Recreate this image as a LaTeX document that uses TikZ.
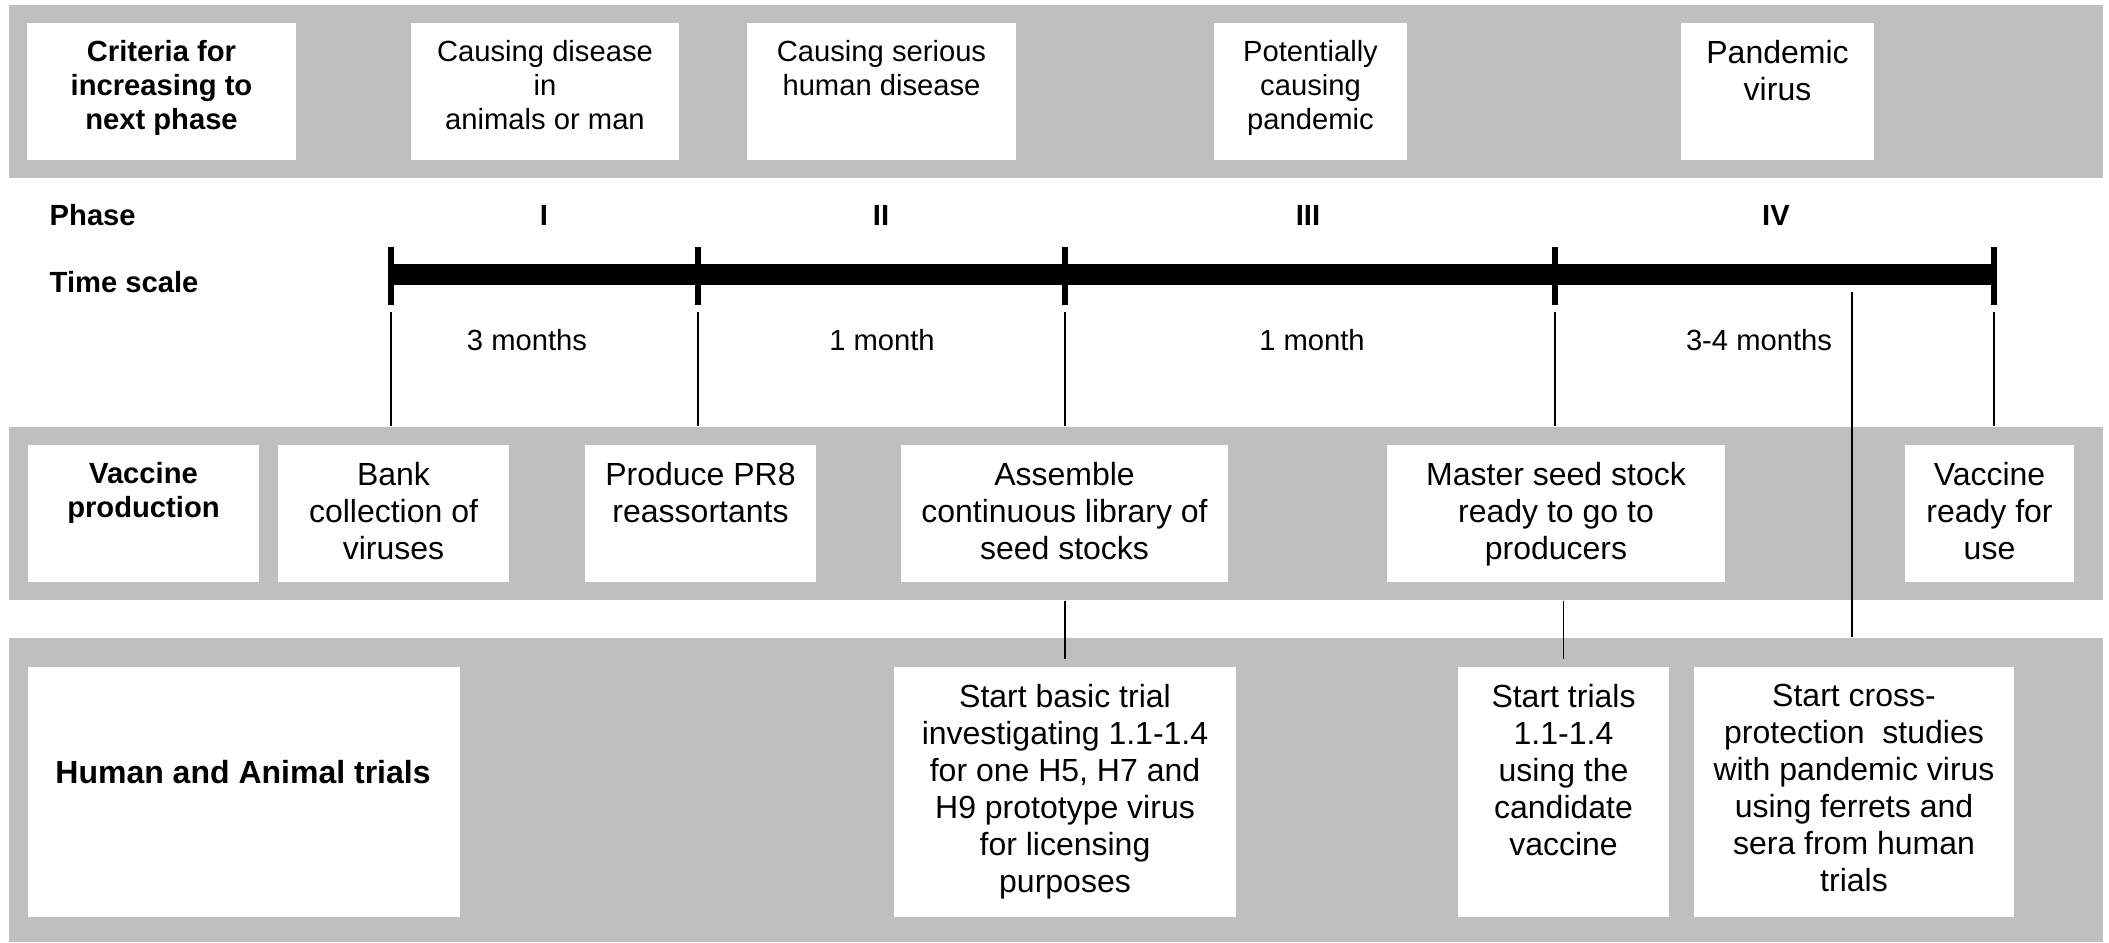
\documentclass[tikz,border=0pt]{standalone}
\usepackage{fontspec}
\setmainfont{Liberation Sans}
\usetikzlibrary{positioning}
\usetikzlibrary{fit}

\newcommand{\smallfont}{\fontsize{8.3}{9.7}\selectfont}
\newcommand{\bigfont}{\fontsize{9.1}{10.5}\selectfont}
% white box between two corners, text hung from its top edge
\newcommand{\stage}[5][\bigfont]{%
  \node[box, fit={(#3) (#4)}] (#2) {};
  \node[txt, font=#1, anchor=north] (#2-t) at ([yshift=-0.175cm]#2.north) {#5};}

\begin{document}
\begin{tikzpicture}[x=0.01cm, y=-0.01cm,
  band/.style={fill=black!25, draw=none, inner sep=0pt},
  box/.style={fill=white, draw=none, inner sep=0pt},
  txt/.style={align=center, inner sep=0pt},
  lbl/.style={font=\smallfont\bfseries, inner sep=0pt},
  tick/.style={line width=1.7pt},
  link/.style={line width=0.5pt}]
\useasboundingbox (0,0) rectangle (2109,942);

% grey bands
\node[band, fit={(9,5) (2103,178)}] (topband) {};
\node[band, fit={(9,427) (2103,600)}] (midband) {};
\node[band, fit={(9,638) (2103,942)}] (botband) {};

% criteria row
\stage[\smallfont\bfseries]{crit}{27,23}{296,160}{Criteria for\\increasing to\\next phase}
\stage[\smallfont]{cdis}{411,23}{679,160}{Causing disease\\in\\animals or man}
\stage[\smallfont]{cser}{747,23}{1016,160}{Causing serious\\human disease}
\stage[\smallfont]{pot}{1214,23}{1407,160}{Potentially\\causing\\pandemic}
\stage{pvir}{1681,23}{1874,160}{Pandemic\\virus}

% phase and time scale
\node[lbl, anchor=base west] (phase) at (49,225) {Phase};
\node[lbl, anchor=base west] (tscale) at (49,292) {Time scale};
\foreach \n/\x in {I/544, II/881, III/1308, IV/1776}
  \node[lbl, anchor=base] (ph-\n) at (\x,225) {\n};

\draw[line width=0.21cm] (391,274) -- (1994,274);
\foreach \x [count=\i from 0] in {391,698,1065,1555,1994} {
  \coordinate (t\i) at (\x,274);
  \draw[tick] (t\i) ++(0,-27) -- ++(0,58);
}
\foreach \x/\d [count=\i] in {527/3 months, 882/1 month, 1312/1 month, 1759/3-4 months}
  \node[font=\smallfont, anchor=base, inner sep=0pt] (dur\i) at (\x,350) {\d};

% vaccine production row
\stage[\smallfont\bfseries]{vprod}{28,445}{259,582}{Vaccine\\production}
\stage{bank}{278,445}{509,582}{Bank\\collection of\\viruses}
\stage{pr8}{585,445}{816,582}{Produce PR8\\reassortants}
\stage{lib}{901,445}{1228,582}{Assemble\\continuous library of\\seed stocks}
\stage{seed}{1387,445}{1725,582}{Master seed stock\\ready to go to\\producers}
\stage{ready}{1905,445}{2074,582}{Vaccine\\ready for\\use}

% trials row
\node[box, fit={(28,667) (460,917)}] (hat) {};
\node[txt, font=\bigfont\bfseries] (hat-t) at (243,772) {Human and Animal trials};
\stage{basic}{894,667}{1236,917}{Start basic trial\\investigating 1.1-1.4\\for one H5, H7 and\\H9 prototype virus\\for licensing\\purposes}
\stage{trials}{1458,667}{1669,917}{Start trials\\1.1-1.4\\using the\\candidate\\vaccine}
\stage{cross}{1694,667}{2014,917}{Start cross-\\protection \ studies\\with pandemic virus\\using ferrets and\\sera from human\\trials}

% connecting lines
\foreach \i in {0,...,4}
  \draw[link] (t\i) ++(0,38) -- (t\i |- midband.north);
\coordinate (cross-top) at (1852,292);
\draw[link] (cross-top) -- (cross-top |- botband.north);
\draw[link] (basic.north |- midband.south) -- ++(0,58);
\draw[link] (trials.north |- midband.south) -- ++(0,58);

\end{tikzpicture}
\end{document}
